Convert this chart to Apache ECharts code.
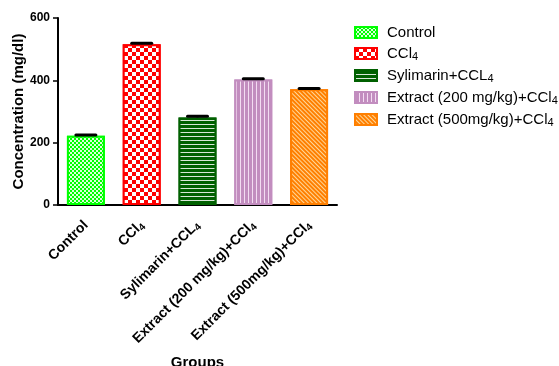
<!DOCTYPE html>
<html><head><meta charset="utf-8">
<script src="https://cdn.jsdelivr.net/npm/echarts@6/dist/echarts.min.js"></script>
<style>html,body{margin:0;padding:0;background:#fff}#c{width:559px;height:366px}</style>
</head><body><div id="c"></div>
<script>
var categories = ['Control', 'CCl4', 'Sylimarin+CCL4', 'Extract (200 mg/kg)+CCl4', 'Extract (500mg/kg)+CCl4'];
var labelsRich = ['{m|Control}', '{m|CCl}{s|4}', '{m|Sylimarin+CCL}{s|4}', '{m|Extract (200 mg/kg)+CCl}{s|4}', '{m|Extract (500mg/kg)+CCl}{s|4}'];
var values = [222, 516, 281, 403, 371];
var errors = [3, 3, 4, 2, 3];
var yTicks = [0, 200, 400, 600];
var colors = ['#00ff00', '#ff0000', '#006000', '#c28dbf', '#ff7f00'];

var decals = [
  {symbol:'rect', color:'rgba(255,255,255,0.85)', dashArrayX:[[2,2],[0,2,2,0]], dashArrayY:[2,0], symbolSize:1, rotation:0},
  {symbol:'rect', color:'#ffffff', dashArrayX:[[4,4],[0,4,4,0]], dashArrayY:[4,0], symbolSize:1, rotation:0},
  {symbol:'rect', color:'rgba(255,255,255,0.85)', dashArrayX:[1,0], dashArrayY:[1,3], symbolSize:1, rotation:0},
  {symbol:'rect', color:'rgba(255,240,255,0.8)', dashArrayX:[1,3], dashArrayY:[1,0], symbolSize:1, rotation:0},
  {symbol:'rect', color:'rgba(255,225,170,0.9)', dashArrayX:[1,0], dashArrayY:[1,2], symbolSize:1, rotation:Math.PI/4}
];

var FF = 'Liberation Sans, Arial, sans-serif';
var richStyle = {
  m: {fontFamily:FF, fontWeight:'bold', fontSize:14, color:'#000', lineHeight:17},
  s: {fontFamily:FF, fontWeight:'bold', fontSize:10, color:'#000', lineHeight:12, verticalAlign:'bottom'}
};
var legendRich = {
  m: {fontFamily:FF, fontSize:15, color:'#000', lineHeight:17},
  s: {fontFamily:FF, fontSize:11, color:'#000', lineHeight:12, verticalAlign:'bottom'}
};

var series = categories.map(function(name, i){
  return {
    name: name, type:'bar', barWidth:'68%', barGap:'-100%',
    data: categories.map(function(c, j){ return j === i ? values[i] : '-'; }),
    itemStyle: {color: colors[i], borderColor: colors[i], borderWidth: 2, decal: decals[i]},
    emphasis: {disabled: true}, z: 2
  };
});
series.push({
  type:'custom', name:'err', z: 5,
  data: values.map(function(v, i){ return [i, v, errors[i]]; }),
  renderItem: function(params, api){
    var x = api.value(0), v = api.value(1), e = api.value(2);
    var p0 = api.coord([x, v]);
    var p1 = api.coord([x, v + e]);
    return {type:'group', children:[
      {type:'line', shape:{x1:p0[0], y1:p0[1], x2:p1[0], y2:p1[1]}, style:{stroke:'#000', lineWidth:2}},
      {type:'line', shape:{x1:p1[0]-10, y1:p1[1], x2:p1[0]+10, y2:p1[1]}, style:{stroke:'#000', lineWidth:3, lineCap:'round'}}
    ]};
  }
});

var chart = echarts.init(document.getElementById('c'), null, {renderer:'canvas'});
chart.setOption({
  animation:false,
  aria: {enabled:false, decal:{show:false}},
  grid: {left:58, right:222, top:18, bottom:161, containLabel:false, outerBoundsMode:'none'},
  legend: {
    data: categories, left:354, top:25, padding:0, orient:'vertical', itemWidth:22, itemHeight:11, itemGap:6,
    icon:'rect',
    formatter: function(n){ return labelsRich[categories.indexOf(n)]; },
    textStyle: {rich: legendRich, padding:[0,0,0,5]}
  },
  xAxis: {
    type:'category', data: categories,
    name:'Groups', nameLocation:'middle', nameGap:150,
    nameTextStyle:{fontFamily:FF, fontWeight:'bold', fontSize:15, color:'#000'},
    axisLine:{lineStyle:{color:'#000', width:2}},
    axisTick:{alignWithLabel:true, length:5, lineStyle:{color:'#000', width:1.5}},
    axisLabel:{rotate:45, interval:0, margin:18, formatter:function(v){ return labelsRich[categories.indexOf(v)]; }, rich: richStyle}
  },
  yAxis: {
    type:'value', min:0, max:600, interval:200,
    name:'Concentration (mg/dl)', nameLocation:'middle', nameGap:31, nameRotate:90,
    nameTextStyle:{fontFamily:FF, fontWeight:'bold', fontSize:15, color:'#000'},
    axisLine:{show:true, lineStyle:{color:'#000', width:2}},
    axisTick:{show:true, length:5, lineStyle:{color:'#000', width:1.5}},
    axisLabel:{fontFamily:FF, fontWeight:'bold', fontSize:12, color:'#000', margin:8,
      formatter:function(v){ return yTicks.indexOf(v) >= 0 ? String(v) : ''; }},
    splitLine:{show:false}
  },
  series: series
});
</script></body></html>
